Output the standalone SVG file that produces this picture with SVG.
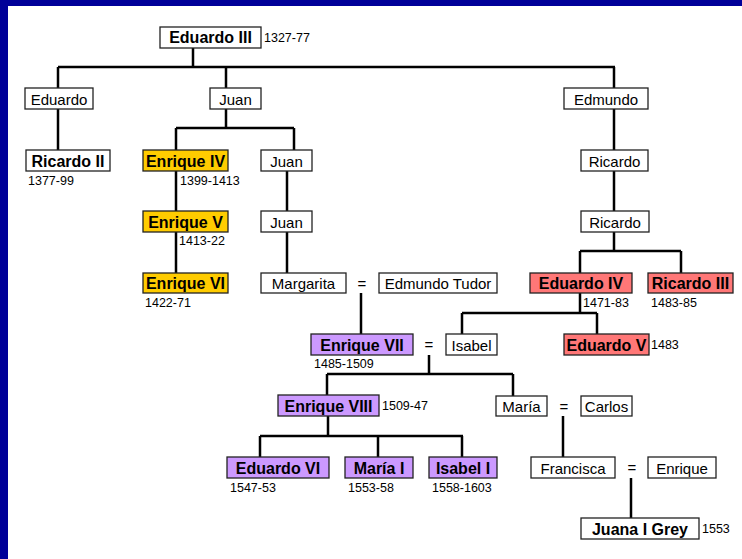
<svg xmlns="http://www.w3.org/2000/svg" width="742" height="559" viewBox="0 0 742 559">
<style>
.bx{fill:#fff;stroke:#222;stroke-width:1.3}
.gold{fill:#FFCC00}
.red{fill:#FF7777}
.pur{fill:#CC99FF}
.n{font-family:"Liberation Sans",Arial,sans-serif;font-size:15px;fill:#000;text-anchor:middle}
.b{font-family:"Liberation Sans",Arial,sans-serif;font-size:16px;font-weight:bold;fill:#000;text-anchor:middle}
.y{font-family:"Liberation Sans",Arial,sans-serif;font-size:12.5px;fill:#000}
.eq{font-family:"Liberation Sans",Arial,sans-serif;font-size:15px;fill:#000;text-anchor:middle}
.c{fill:none;stroke:#000;stroke-width:2.5}
</style>
<rect x="0" y="0" width="742" height="559" fill="#fff"/>
<rect x="0" y="0" width="742" height="6" fill="#000099"/>
<rect x="0" y="0" width="8" height="559" fill="#000099"/>
<g id="connectors">
<path class="c" d="M193 48V67M58 67H615M58 67V88M226 67V88M614 67V88"/>
<path class="c" d="M58 109V150"/>
<path class="c" d="M226 109V128M176 128H294M176 128V150M294 128V150"/>
<path class="c" d="M176 171V211M176 232V273"/>
<path class="c" d="M287 171V211M287 232V273"/>
<path class="c" d="M614 109V150M614 171V211M614 232V251M580 251H681M580 251V273M681 251V273"/>
<path class="c" d="M580 293V313M462 313H597M462 313V334M597 313V334"/>
<path class="c" d="M361 293V334"/>
<path class="c" d="M429 355V374M327 374H513M327 374V395M513 374V396"/>
<path class="c" d="M328 416V436M260 436H463M260 436V457M378 436V457M462 436V457"/>
<path class="c" d="M563 416V457"/>
<path class="c" d="M631 478V518"/>
</g>
<g id="eduardo3"><rect class="bx" x="160" y="27" width="101" height="21"/><text class="b" x="210.5" y="43">Eduardo III</text><text class="y" x="264" y="42">1327-77</text></g>
<g id="eduardo"><rect class="bx" x="25" y="88" width="68" height="21"/><text class="n" x="59" y="105">Eduardo</text></g>
<g id="juan1"><rect class="bx" x="210" y="88" width="51" height="21"/><text class="n" x="235.5" y="105">Juan</text></g>
<g id="edmundo"><rect class="bx" x="564" y="88" width="84" height="21"/><text class="n" x="606" y="105">Edmundo</text></g>
<g id="ricardo2"><rect class="bx" x="26" y="150" width="84" height="21"/><text class="b" x="68" y="166.5">Ricardo II</text><text class="y" x="28" y="185">1377-99</text></g>
<g id="enrique4"><rect class="bx gold" x="143" y="150" width="85" height="21"/><text class="b" x="185.5" y="166.5">Enrique IV</text><text class="y" x="180" y="185">1399-1413</text></g>
<g id="juan2"><rect class="bx" x="261" y="150" width="51" height="21"/><text class="n" x="286.5" y="166.5">Juan</text></g>
<g id="ricardo_a"><rect class="bx" x="581" y="150" width="67" height="21"/><text class="n" x="614.5" y="166.5">Ricardo</text></g>
<g id="enrique5"><rect class="bx gold" x="143" y="211" width="85" height="21"/><text class="b" x="185.5" y="227.5">Enrique V</text><text class="y" x="179" y="245">1413-22</text></g>
<g id="juan3"><rect class="bx" x="261" y="211" width="51" height="21"/><text class="n" x="286.5" y="227.5">Juan</text></g>
<g id="ricardo_b"><rect class="bx" x="581" y="211" width="68" height="21"/><text class="n" x="615" y="227.5">Ricardo</text></g>
<g id="enrique6"><rect class="bx gold" x="143" y="273" width="85" height="20"/><text class="b" x="185.5" y="289">Enrique VI</text><text class="y" x="145" y="307">1422-71</text></g>
<g id="margarita"><rect class="bx" x="261" y="273" width="85" height="20"/><text class="n" x="303.5" y="289">Margarita</text></g>
<text class="eq" x="362" y="289">=</text>
<g id="edmundotudor"><rect class="bx" x="379" y="273" width="118" height="20"/><text class="n" x="438" y="289">Edmundo Tudor</text></g>
<g id="eduardo4"><rect class="bx red" x="530" y="273" width="102" height="20"/><text class="b" x="581" y="289">Eduardo IV</text><text class="y" x="583" y="307">1471-83</text></g>
<g id="ricardo3"><rect class="bx red" x="648" y="273" width="85" height="20"/><text class="b" x="690.5" y="289">Ricardo III</text><text class="y" x="651" y="307">1483-85</text></g>
<g id="enrique7"><rect class="bx pur" x="311" y="334" width="102" height="21"/><text class="b" x="362" y="350.5">Enrique VII</text><text class="y" x="314" y="368">1485-1509</text></g>
<text class="eq" x="429" y="350">=</text>
<g id="isabel"><rect class="bx" x="446" y="334" width="51" height="21"/><text class="n" x="471.5" y="350.5">Isabel</text></g>
<g id="eduardo5"><rect class="bx red" x="564" y="334" width="85" height="21"/><text class="b" x="606.5" y="350.5">Eduardo V</text><text class="y" x="651" y="349">1483</text></g>
<g id="enrique8"><rect class="bx pur" x="278" y="395" width="101" height="21"/><text class="b" x="328.5" y="411.5">Enrique VIII</text><text class="y" x="382" y="410">1509-47</text></g>
<g id="maria"><rect class="bx" x="496" y="396" width="51" height="20"/><text class="n" x="521.5" y="412">María</text></g>
<text class="eq" x="564" y="412">=</text>
<g id="carlos"><rect class="bx" x="581" y="396" width="51" height="20"/><text class="n" x="606.5" y="412">Carlos</text></g>
<g id="eduardo6"><rect class="bx pur" x="227" y="457" width="102" height="21"/><text class="b" x="278" y="473.5">Eduardo VI</text><text class="y" x="230" y="492">1547-53</text></g>
<g id="maria1"><rect class="bx pur" x="345" y="457" width="68" height="21"/><text class="b" x="379" y="473.5">María I</text><text class="y" x="348" y="492">1553-58</text></g>
<g id="isabel1"><rect class="bx pur" x="429" y="457" width="68" height="21"/><text class="b" x="463" y="473.5">Isabel I</text><text class="y" x="432" y="492">1558-1603</text></g>
<g id="francisca"><rect class="bx" x="531" y="457" width="84" height="21"/><text class="n" x="573" y="473.5">Francisca</text></g>
<text class="eq" x="632" y="473">=</text>
<g id="enrique"><rect class="bx" x="648" y="457" width="68" height="21"/><text class="n" x="682" y="473.5">Enrique</text></g>
<g id="juana"><rect class="bx" x="581" y="518" width="118" height="21"/><text class="b" x="640" y="534.5">Juana I Grey</text><text class="y" x="702" y="533">1553</text></g>
</svg>
